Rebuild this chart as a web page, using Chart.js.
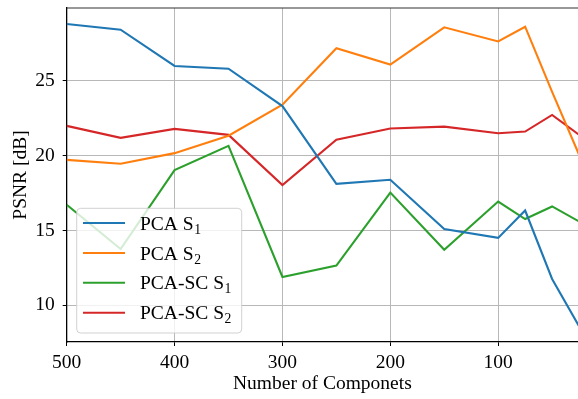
<!DOCTYPE html>
<html>
<head>
<meta charset="utf-8">
<script src="https://cdn.jsdelivr.net/npm/chart.js@4.4.0/dist/chart.umd.min.js"></script>
<style>
  html, body { margin: 0; padding: 0; background: #fff; }
  #wrap { width: 578px; height: 399px; position: relative; }
</style>
</head>
<body>
<div id="wrap"><canvas id="c" width="578" height="399"></canvas></div>
<script>
// Number of components (x values)
const components = [500, 450, 400, 350, 300, 250, 200, 150, 100, 75, 50, 25];
// PSNR values [dB]
const pcaS1   = [28.78, 28.40, 25.98, 25.80, 23.30, 18.11, 18.38, 15.10, 14.50, 16.33, 11.76, 8.60];
const pcaS2   = [19.71, 19.45, 20.16, 21.32, 23.40, 27.16, 26.07, 28.56, 27.62, 28.60, 24.25, 20.05];
const pcascS1 = [16.71, 13.76, 19.03, 20.65, 11.89, 12.65, 17.53, 13.71, 16.93, 15.76, 16.60, 15.60];
const pcascS2 = [21.98, 21.18, 21.78, 21.38, 18.03, 21.05, 21.80, 21.93, 21.49, 21.60, 22.71, 21.38];
// Axis ticks
const xTicks = [500, 400, 300, 200, 100];
const yTicks = [10, 15, 20, 25];
// Legend names (base text + subscript)
const seriesNames = [["PCA S", "1"], ["PCA S", "2"], ["PCA-SC S", "1"], ["PCA-SC S", "2"]];
const seriesColors = ["#1f77b4", "#ff7f0e", "#2ca02c", "#d62728"];

const FONT = "'Liberation Serif', 'Times New Roman', serif";
const FS = 19.5;

function pts(vals) { return components.map((x, i) => ({ x: x, y: vals[i] })); }
const allSeries = [pcaS1, pcaS2, pcascS1, pcascS2];

const frameAndLegend = {
  id: 'frameAndLegend',
  afterDatasetsDraw(chart) {
    const ctx = chart.ctx;
    const a = chart.chartArea;
    ctx.save();
    // top spine
    ctx.strokeStyle = '#333';
    ctx.lineWidth = 1.2;
    ctx.beginPath();
    ctx.moveTo(a.left, a.top);
    ctx.lineTo(a.right, a.top);
    ctx.stroke();

    // legend box
    const bx = 76.7, by = 208.3, bw = 165, bh = 124.7, r = 4;
    ctx.beginPath();
    ctx.moveTo(bx + r, by);
    ctx.lineTo(bx + bw - r, by);
    ctx.quadraticCurveTo(bx + bw, by, bx + bw, by + r);
    ctx.lineTo(bx + bw, by + bh - r);
    ctx.quadraticCurveTo(bx + bw, by + bh, bx + bw - r, by + bh);
    ctx.lineTo(bx + r, by + bh);
    ctx.quadraticCurveTo(bx, by + bh, bx, by + bh - r);
    ctx.lineTo(bx, by + r);
    ctx.quadraticCurveTo(bx, by, bx + r, by);
    ctx.closePath();
    ctx.fillStyle = 'rgba(255,255,255,0.8)';
    ctx.fill();
    ctx.strokeStyle = 'rgba(204,204,204,0.9)';
    ctx.lineWidth = 1;
    ctx.stroke();

    const rows = [223, 253, 282.7, 312.7];
    seriesNames.forEach((nm, i) => {
      const y = rows[i];
      ctx.strokeStyle = seriesColors[i];
      ctx.lineWidth = 2.1;
      ctx.beginPath();
      ctx.moveTo(83, y);
      ctx.lineTo(125, y);
      ctx.stroke();
      ctx.fillStyle = '#000';
      ctx.textBaseline = 'alphabetic';
      ctx.textAlign = 'left';
      ctx.font = FS + 'px ' + FONT;
      const base = y + 6.5;
      ctx.fillText(nm[0], 140, base);
      const w = ctx.measureText(nm[0]).width;
      ctx.font = (FS * 0.7) + 'px ' + FONT;
      ctx.fillText(nm[1], 140 + w + 0.5, base + 4);
    });
    ctx.restore();
  }
};

new Chart(document.getElementById('c'), {
  type: 'line',
  data: {
    datasets: allSeries.map((v, i) => ({
      label: seriesNames[i].join(''),
      data: pts(v),
      borderColor: seriesColors[i],
      backgroundColor: seriesColors[i],
      borderWidth: 2.1,
      pointRadius: 0,
      tension: 0,
      fill: false
    }))
  },
  options: {
    responsive: false,
    animation: false,
    devicePixelRatio: 1,
    layout: { padding: { top: 8, right: 0, bottom: 0, left: 0 } },
    plugins: { legend: { display: false }, tooltip: { enabled: false } },
    scales: {
      x: {
        type: 'linear',
        reverse: true,
        min: 26,
        max: 500,
        afterBuildTicks: s => { s.ticks = xTicks.map(v => ({ value: v })); },
        afterFit: s => { s.height = 57; s.paddingLeft = 0; s.paddingRight = 0; s.paddingTop = 0; s.paddingBottom = 0; },
        ticks: { color: '#000', font: { family: FONT, size: FS }, padding: 5, maxRotation: 0, autoSkip: false },
        grid: { color: '#b8b8b8', lineWidth: 1, tickLength: 4, tickColor: '#000', drawTicks: true },
        border: { display: true, color: '#000', width: 1.3 },
        title: { display: true, text: 'Number of Componets', color: '#000', font: { family: FONT, size: FS }, padding: { top: 0, bottom: 3.3 } }
      },
      y: {
        type: 'linear',
        min: 7.55,
        max: 29.85,
        afterBuildTicks: s => { s.ticks = yTicks.map(v => ({ value: v })); },
        afterFit: s => { s.width = 66.7; s.paddingLeft = 0; s.paddingRight = 0; s.paddingTop = 0; s.paddingBottom = 0; },
        ticks: { color: '#000', font: { family: FONT, size: FS }, padding: 8 },
        grid: { color: '#b8b8b8', lineWidth: 1, tickLength: 4, tickColor: '#000', drawTicks: true },
        border: { display: true, color: '#000', width: 1.3 },
        title: { display: true, text: 'PSNR [dB]', color: '#000', font: { family: FONT, size: FS }, padding: { top: 9.3, bottom: 0 } }
      }
    }
  },
  plugins: [frameAndLegend]
});
</script>
</body>
</html>
